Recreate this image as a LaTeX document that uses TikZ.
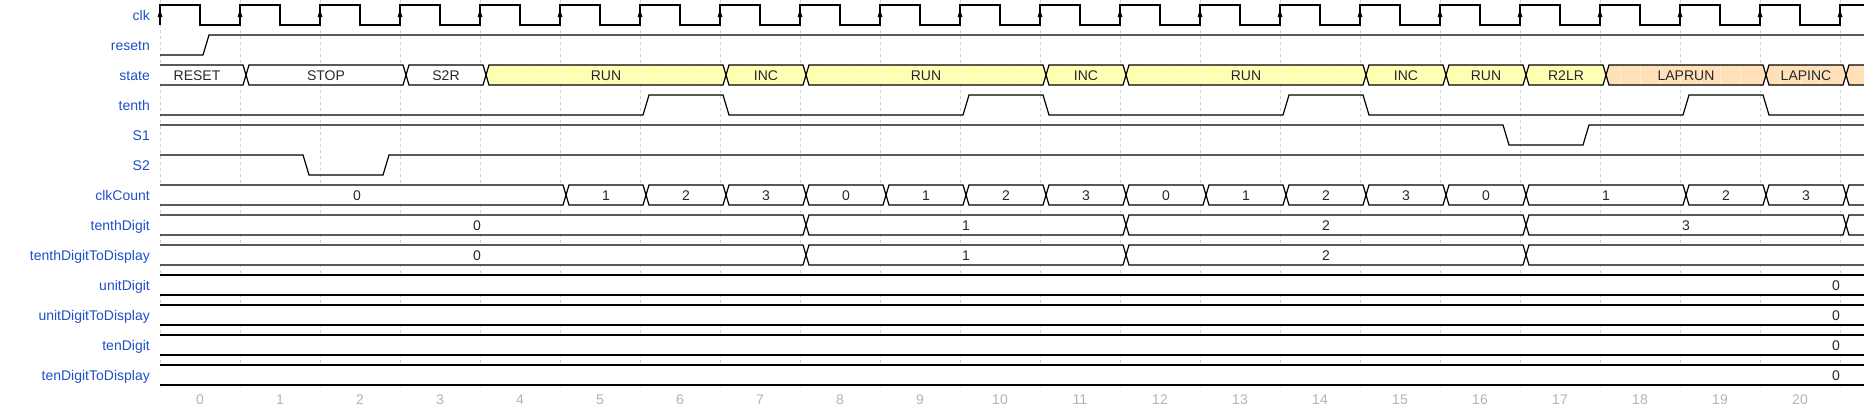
\documentclass[tikz,border=0pt]{standalone}
\usepackage{fontspec}
\setmainfont{Liberation Sans}
\definecolor{lblblue}{RGB}{30,80,200}
\definecolor{runc}{RGB}{255,255,180}
\definecolor{lapc}{RGB}{255,224,185}
\definecolor{gridc}{RGB}{210,210,210}
\definecolor{axisc}{RGB}{180,180,180}
\definecolor{txtc}{RGB}{40,40,40}
\tikzset{
 sig/.style={line width=1.2pt, black, line join=miter},
 gridline/.style={gridc, line width=0.8pt, dash pattern=on 3pt off 3pt},
 siglabel/.style={anchor=base east, text=lblblue, font=\fontsize{14}{16}\selectfont, inner sep=0pt},
 bustext/.style={anchor=base, text=txtc, font=\fontsize{14}{16}\selectfont, inner sep=0pt},
 axislabel/.style={anchor=base, text=axisc, font=\fontsize{14}{16}\selectfont, inner sep=0pt},
 seam/.style={white, line width=0.7pt, opacity=0.45},
}
\newcommand{\wbus}[4]{%
  \filldraw[sig, fill=#4] ({#2+6},{#1+10}) -- ({#2+9},#1) -- ({#3+3},#1) -- ({#3+6},{#1+10}) -- ({#3+3},{#1+20}) -- ({#2+9},{#1+20}) -- cycle;}
\newcommand{\wbusfirst}[3]{%
  \fill[#3] (160,#1) -- ({#2+3},#1) -- ({#2+6},{#1+10}) -- ({#2+3},{#1+20}) -- (160,{#1+20}) -- cycle;
  \draw[sig] (160,#1) -- ({#2+3},#1) -- ({#2+6},{#1+10}) -- ({#2+3},{#1+20}) -- (160,{#1+20});}
\newcommand{\wbuslast}[3]{%
  \fill[#3] ({#2+6},{#1+10}) -- ({#2+9},#1) -- (1864,#1) -- (1864,{#1+20}) -- ({#2+9},{#1+20}) -- cycle;
  \draw[sig] (1864,#1) -- ({#2+9},#1) -- ({#2+6},{#1+10}) -- ({#2+9},{#1+20}) -- (1864,{#1+20});}
\newcommand{\wbusfull}[2]{%
  \fill[#2] (160,#1) rectangle (1864,{#1+20});
  \draw[sig] (160,#1) -- (1864,#1) (160,{#1+20}) -- (1864,{#1+20});}
\newcommand{\wseams}[3]{%
  \pgfmathtruncatemacro\seamA{#2+20}\pgfmathtruncatemacro\seamC{#2+40}\pgfmathtruncatemacro\seamB{#3-20}%
  \foreach \s in {\seamA,\seamC,...,\seamB}{\draw[seam] (\s,{#1+0.8}) -- (\s,{#1+19.2});}}
\begin{document}
\begin{tikzpicture}[x={(1pt,0)}, y={(0,-1pt)}]
\useasboundingbox (0,0) rectangle (1864,410);
\fill[white] (0,0) rectangle (1864,410);
% grid
\foreach \k in {0,...,21} \draw[gridline] ({160+80*\k},0) -- ({160+80*\k},390);
% signal labels
\foreach \t [count=\i from 0] in {clk,resetn,state,tenth,S1,S2,clkCount,tenthDigit,tenthDigitToDisplay,unitDigit,unitDigitToDisplay,tenDigit,tenDigitToDisplay}
  \node[siglabel] (lbl-\i) at (150,{20+30*\i}) {\t};
% axis
\foreach \k in {0,...,20} \node[axislabel] (ax-\k) at ({200+80*\k},404) {\k};
% clk
\draw[sig] (160,25) \foreach \k in {0,...,20} { -- ({160+80*\k},5) -- ({200+80*\k},5) -- ({200+80*\k},25) -- ({240+80*\k},25) } -- (1840,5) -- (1864,5);
\foreach \k in {0,...,21} \fill ({160+80*\k},10) -- ++(-2.5,7) -- ++(5,0) -- cycle;
% resetn
\draw[sig] (160,55) -- (203,55) -- (209,35) -- (1864,35);
% tenth
\draw[sig] (160,115) -- (643,115) -- (649,95) -- (723,95) -- (729,115) -- (963,115) -- (969,95) -- (1043,95) -- (1049,115) -- (1283,115) -- (1289,95) -- (1363,95) -- (1369,115) -- (1683,115) -- (1689,95) -- (1763,95) -- (1769,115) -- (1864,115);
% S1
\draw[sig] (160,125) -- (1503,125) -- (1509,145) -- (1583,145) -- (1589,125) -- (1864,125);
% S2
\draw[sig] (160,155) -- (303,155) -- (309,175) -- (383,175) -- (389,155) -- (1864,155);
% state
\wbusfirst{65}{240}{white}
\node[bustext] (st-0) at (197,80) {RESET};
\foreach \a/\b/\c/\t [count=\n] in {240/400/white/STOP, 400/480/white/S2R, 480/720/runc/RUN, 720/800/runc/INC, 800/1040/runc/RUN, 1040/1120/runc/INC, 1120/1360/runc/RUN, 1360/1440/runc/INC, 1440/1520/runc/RUN, 1520/1600/runc/R2LR, 1600/1760/lapc/LAPRUN, 1760/1840/lapc/LAPINC}{
  \wbus{65}{\a}{\b}{\c}
  \wseams{65}{\a}{\b}
  \node[bustext] (st-\n) at ({(\a+\b)/2+6},80) {\t};
}
\wbuslast{65}{1840}{lapc}
% clkCount
\wbusfirst{185}{560}{white}
\node[bustext] (cc-0) at (357,200) {0};
\foreach \a/\b/\t [count=\n] in {560/640/1, 640/720/2, 720/800/3, 800/880/0, 880/960/1, 960/1040/2, 1040/1120/3, 1120/1200/0, 1200/1280/1, 1280/1360/2, 1360/1440/3, 1440/1520/0, 1520/1680/1, 1680/1760/2, 1760/1840/3}{
  \wbus{185}{\a}{\b}{white}
  \node[bustext] (cc-\n) at ({(\a+\b)/2+6},200) {\t};
}
\wbuslast{185}{1840}{white}
% tenthDigit
\wbusfirst{215}{800}{white}
\node[bustext] (td-0) at (477,230) {0};
\foreach \a/\b/\t [count=\n] in {800/1120/1, 1120/1520/2, 1520/1840/3}{
  \wbus{215}{\a}{\b}{white}
  \node[bustext] (td-\n) at ({(\a+\b)/2+6},230) {\t};
}
\wbuslast{215}{1840}{white}
% tenthDigitToDisplay
\wbusfirst{245}{800}{white}
\node[bustext] (tdd-0) at (477,260) {0};
\foreach \a/\b/\t [count=\n] in {800/1120/1, 1120/1520/2}{
  \wbus{245}{\a}{\b}{white}
  \node[bustext] (tdd-\n) at ({(\a+\b)/2+6},260) {\t};
}
\wbuslast{245}{1520}{white}
% unitDigit, unitDigitToDisplay, tenDigit, tenDigitToDisplay
\foreach \r [count=\n] in {275,305,335,365}{
  \wbusfull{\r}{white}
  \node[bustext] (z-\n) at (1836,{\r+15}) {0};
}
\end{tikzpicture}
\end{document}
